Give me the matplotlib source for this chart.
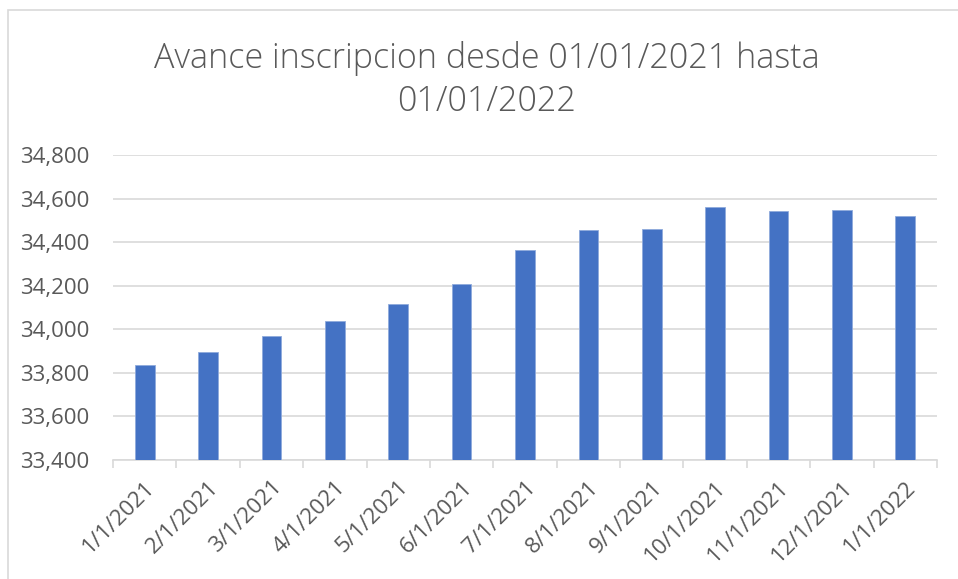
import matplotlib
matplotlib.use("Agg")
import matplotlib.pyplot as plt
from matplotlib.patches import Rectangle
from matplotlib.ticker import FuncFormatter, FixedLocator

categories = ["1/1/2021", "2/1/2021", "3/1/2021", "4/1/2021", "5/1/2021", "6/1/2021",
              "7/1/2021", "8/1/2021", "9/1/2021", "10/1/2021", "11/1/2021", "12/1/2021",
              "1/1/2022"]
values = [33834, 33895, 33969, 34036, 34116, 34206, 34364, 34458, 34461, 34563,
          34543, 34548, 34522]
y_ticks = [33400, 33600, 33800, 34000, 34200, 34400, 34600, 34800]
title = "Avance inscripcion desde 01/01/2021 hasta\n01/01/2022"

plt.rcParams['font.family'] = ['Open Sans', 'DejaVu Sans']
gray = "#595959"

fig = plt.figure(figsize=(9.58, 5.79), dpi=100)
fig.patches.append(Rectangle((8/958, -0.01), 1.2, (579-10)/579 + 0.01, transform=fig.transFigure,
                             fill=False, edgecolor="#D9D9D9", linewidth=1.2))
ax = fig.add_axes([113/958, (579-460)/579, (937-113)/958, (460-155)/579])

x = list(range(len(categories)))
ax.bar(x, values, width=0.31, color="#4472C4", edgecolor="#8FAADC", linewidth=0.6, zorder=3)

ax.set_ylim(33400, 34800)
ax.set_xlim(-0.5, len(categories) - 0.5)
ax.set_yticks(y_ticks)
ax.yaxis.set_major_formatter(FuncFormatter(lambda v, p: f"{int(v):,}"))
ax.grid(axis='y', color="#D9D9D9", linewidth=1.2, zorder=0)
ax.set_xticks(x)
ax.set_xticklabels(categories, rotation=45, ha='right', rotation_mode='anchor')
ax.xaxis.set_minor_locator(FixedLocator([i - 0.5 for i in range(len(categories) + 1)]))
ax.tick_params(axis='x', which='major', length=0, pad=12, labelsize=16, labelcolor=gray)
ax.tick_params(axis='x', which='minor', length=6, color="#D9D9D9", width=1.2)
ax.tick_params(axis='y', length=0, pad=17, labelsize=16, labelcolor=gray)

for s in ['top', 'right', 'left']:
    ax.spines[s].set_visible(False)
ax.spines['bottom'].set_color("#D9D9D9")
ax.spines['bottom'].set_linewidth(1.2)

fig.text(487/958, 1 - 80/579, title, ha='center', va='center', fontsize=24.5,
         color=gray, fontweight='light', linespacing=1.3)

fig.savefig("out.png", dpi=100)
